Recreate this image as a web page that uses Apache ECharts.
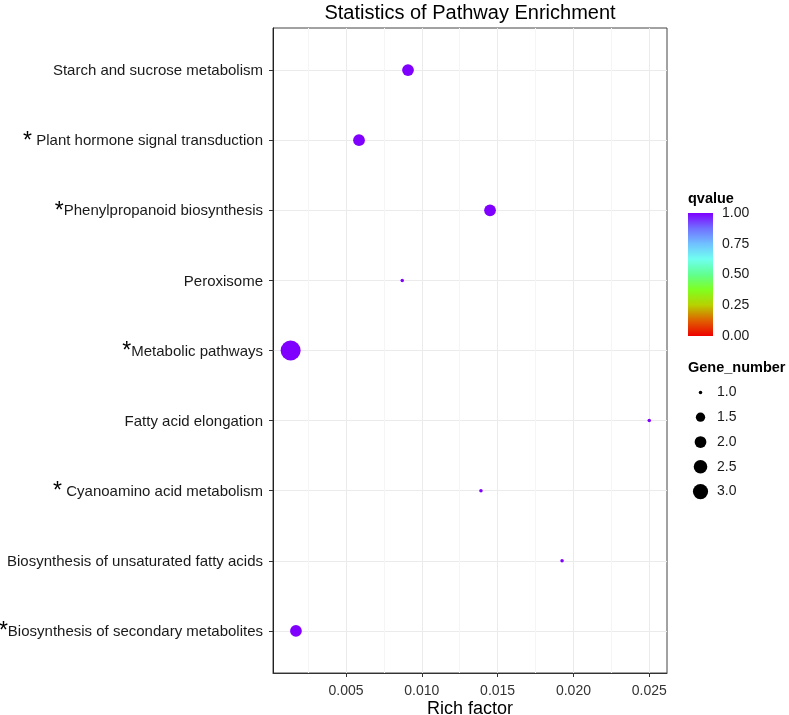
<!DOCTYPE html>
<html><head><meta charset="utf-8">
<script src="https://cdn.jsdelivr.net/npm/echarts@6/dist/echarts.min.js"></script>
<style>html,body{margin:0;padding:0;background:#fff}#c{width:789px;height:715px}</style>
</head><body><div id="c"></div>
<script>
// ---- data ----
const pathways = ['Starch and sucrose metabolism','Plant hormone signal transduction','Phenylpropanoid biosynthesis','Peroxisome','Metabolic pathways','Fatty acid elongation','Cyanoamino acid metabolism','Biosynthesis of unsaturated fatty acids','Biosynthesis of secondary metabolites'];
const starred = [false, true, true, false, true, false, true, false, true];
const starSpace = ['', ' ', '', '', '', '', ' ', '', ''];
const richFactor = [0.00909, 0.00586, 0.0145, 0.00871, 0.00135, 0.0250, 0.0139, 0.01925, 0.0017];
const geneNumber = [2, 2, 2, 1, 5, 1, 1, 1, 2];
const qvalue = [1, 1, 1, 1, 1, 1, 1, 1, 1];
const xTicks = [0.005, 0.010, 0.015, 0.020, 0.025];
const xMinorTicks = [0.0025, 0.0075, 0.0125, 0.0175, 0.0225];
const qTicks = [0, 0.25, 0.5, 0.75, 1];
const sizeBreaks = [1.0, 1.5, 2.0, 2.5, 3.0];
const qColors = ['#ee0000','#e06000','#b8d000','#80ff20','#60ff90','#70fff0','#70c0ff','#7070ff','#7f00ff'];

const FONT = '"Liberation Sans", Arial, Helvetica, sans-serif';
const sizeDomain = [1, 5];
function sizeFn(v){ return 3.5 + 16.5 * Math.sqrt((v - sizeDomain[0]) / (sizeDomain[1] - sizeDomain[0])); }

const yIdx = pathways.map((_, i) => i);
const pointData = pathways.map((p, i) => [richFactor[i], i, qvalue[i], geneNumber[i]]);

const gradStops = qColors.map((c, i) => ({ offset: 1 - i / (qColors.length - 1), color: c }));

const chart = echarts.init(document.getElementById('c'), null, { renderer: 'canvas' });
chart.setOption({
  animation: false,
  backgroundColor: '#ffffff',
  textStyle: { fontFamily: FONT },
  grid: [
    { left: 273, right: 122, top: 28, bottom: 42, show: true, borderColor: '#444', borderWidth: 1, containLabel: false, outerBoundsMode: 'none' },
    { left: 688, top: 213, width: 25, height: 123, outerBoundsMode: 'none' },
    { left: 688, top: 380, width: 25, height: 124, outerBoundsMode: 'none' }
  ],
  xAxis: [
    { gridIndex: 0, type: 'value', min: 0.000187, max: 0.02617,
      name: 'Rich factor', nameLocation: 'middle', nameGap: 27, nameMoveOverlap: false,
      nameTextStyle: { fontSize: 18, color: '#000', fontFamily: FONT },
      axisLine: { show: true, onZero: false, lineStyle: { color: '#333' } },
      axisTick: { show: true, length: 4, lineStyle: { color: '#333' }, customValues: xTicks },
      axisLabel: { customValues: xTicks, fontSize: 14, color: '#333', margin: 11, formatter: v => v.toFixed(3) },
      splitLine: { show: true, lineStyle: { color: '#ebebeb', width: 1 } } },
    { gridIndex: 0, type: 'value', min: 0.000187, max: 0.02617, position: 'bottom',
      axisLine: { show: false, onZero: false }, axisLabel: { show: false },
      axisTick: { show: false, customValues: xMinorTicks },
      splitLine: { show: true, lineStyle: { color: '#f5f5f5', width: 1 } } },
    { gridIndex: 1, type: 'category', data: ['q'], show: false },
    { gridIndex: 2, type: 'value', min: 0, max: 1, show: false }
  ],
  yAxis: [
    { gridIndex: 0, type: 'value', min: -0.6, max: 8.6, inverse: true,
      axisLine: { show: true, onZero: false, lineStyle: { color: '#222' } },
      axisTick: { show: true, length: 4, lineStyle: { color: '#333' }, customValues: yIdx },
      axisLabel: { customValues: yIdx, fontSize: 15, color: '#1a1a1a', margin: 10, padding: [2, 0, 0, 0],
        formatter: v => { const i = Math.round(v); return starred[i] ? '{s|*}' + starSpace[i] + pathways[i] : pathways[i]; },
        rich: { s: { fontSize: 23, color: '#000', fontFamily: FONT } } },
      splitLine: { show: true, lineStyle: { color: '#ebebeb', width: 1 } } },
    { gridIndex: 1, type: 'value', min: 0, max: 1, position: 'right',
      axisLine: { show: false },
      axisTick: { show: true, inside: true, length: 5, lineStyle: { color: '#fff', width: 1 }, customValues: qTicks },
      axisLabel: { customValues: qTicks, fontSize: 14, color: '#1a1a1a', margin: 9, formatter: v => v.toFixed(2) },
      splitLine: { show: false } },
    { gridIndex: 1, type: 'value', min: 0, max: 1, position: 'left',
      axisLine: { show: false },
      axisTick: { show: true, inside: true, length: 5, lineStyle: { color: '#fff', width: 1 }, customValues: qTicks },
      axisLabel: { show: false }, splitLine: { show: false } },
    { gridIndex: 2, type: 'category', data: sizeBreaks.map(v => v.toFixed(1)), inverse: true, position: 'right',
      axisLine: { show: false }, axisTick: { show: false },
      axisLabel: { fontSize: 14, color: '#1a1a1a', margin: 4 }, splitLine: { show: false } }
  ],
  visualMap: [{
    type: 'continuous', show: false, min: 0, max: 1, dimension: 2, seriesIndex: 0,
    inRange: { color: qColors }
  }],
  series: [
    { type: 'scatter', xAxisIndex: 0, yAxisIndex: 0, data: pointData,
      symbolSize: val => sizeFn(val[3]), itemStyle: { opacity: 1 }, z: 5 },
    { type: 'bar', xAxisIndex: 2, yAxisIndex: 1, data: [1], barWidth: '100%',
      itemStyle: { color: new echarts.graphic.LinearGradient(0, 0, 0, 1, gradStops) }, silent: true },
    { type: 'scatter', xAxisIndex: 3, yAxisIndex: 3,
      data: sizeBreaks.map((v, i) => [0.5, i, v]),
      symbolSize: val => sizeFn(val[2]), itemStyle: { color: '#000', opacity: 1 }, silent: true }
  ],
  graphic: [
    { type: 'text', x: 470, y: 13, style: { text: 'Statistics of Pathway Enrichment', fontSize: 20, fill: '#000', fontFamily: FONT, align: 'center', verticalAlign: 'middle' } },
    { type: 'text', x: 688, y: 199, style: { text: 'qvalue', fontSize: 14.5, fontWeight: 'bold', fill: '#000', fontFamily: FONT, verticalAlign: 'middle' } },
    { type: 'text', x: 688, y: 368, style: { text: 'Gene_number', fontSize: 14.5, fontWeight: 'bold', fill: '#000', fontFamily: FONT, verticalAlign: 'middle' } }
  ]
});
</script>
</body></html>
